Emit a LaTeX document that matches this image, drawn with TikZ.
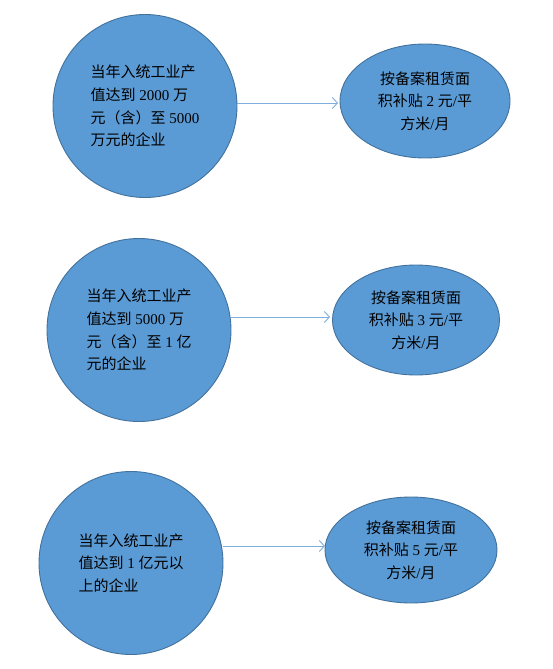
\documentclass[tikz,border=0pt]{standalone}
\usepackage{fontspec}
\setmainfont{Liberation Serif}
\newfontfamily\cjk{Noto Sans CJK SC}
\usetikzlibrary{shapes.geometric,arrows.meta}
\definecolor{bfill}{HTML}{5B9BD5}
\definecolor{bline}{HTML}{41719C}
\definecolor{aline}{HTML}{7EAEDD}
\tikzset{
  firm/.style={ellipse,draw=bline,line width=0.9pt,fill=bfill,inner sep=0pt,
    minimum width=184pt,minimum height=183pt,align=left,font=\fontsize{15}{22.7}\selectfont},
  aid/.style={ellipse,draw=bline,line width=0.9pt,fill=bfill,inner sep=0pt,
    minimum width=170pt,minimum height=114pt,align=center,font=\fontsize{15}{22.7}\selectfont},
  arr/.style={draw=aline,line width=1pt,-{Straight Barb[length=5pt,width=11pt,line width=0.9pt]}}
}
\begin{document}
\begin{tikzpicture}[x=1pt,y=-1pt]
\useasboundingbox (0,0) rectangle (553,669);
\node[firm] (c1) at (145,106) {{\cjk 当年入统工业产}\\{\cjk 值达到} 2000 {\cjk 万}\\{\cjk 元（含）至} 5000\\{\cjk 万元的企业}};
\node[aid] (e1) at (425,101) {{\cjk 按备案租赁面}\\{\cjk 积补贴} 2 {\cjk 元}/{\cjk 平}\\{\cjk 方米}/{\cjk 月}};
\node[firm] (c2) at (139,330) {{\cjk 当年入统工业产}\\{\cjk 值达到} 5000 {\cjk 万}\\{\cjk 元（含）至} 1 {\cjk 亿}\\{\cjk 元的企业}};
\node[aid,minimum width=167pt,minimum height=110pt] (e2) at (416,320) {{\cjk 按备案租赁面}\\{\cjk 积补贴} 3 {\cjk 元}/{\cjk 平}\\{\cjk 方米}/{\cjk 月}};
\node[firm] (c3) at (131,563) {{\cjk 当年入统工业产}\\{\cjk 值达到} 1 {\cjk 亿元以}\\{\cjk 上的企业}};
\node[aid,minimum width=172pt,minimum height=106pt] (e3) at (411,550) {{\cjk 按备案租赁面}\\{\cjk 积补贴} 5 {\cjk 元}/{\cjk 平}\\{\cjk 方米}/{\cjk 月}};
\coordinate (t1) at (338,103);
\coordinate (t2) at (330,317);
\coordinate (t3) at (325,546);
\draw[arr] (c1.east |- t1) -- (t1);
\draw[arr] (c2.east |- t2) -- (t2);
\draw[arr] (c3.east |- t3) -- (t3);
\end{tikzpicture}
\end{document}
